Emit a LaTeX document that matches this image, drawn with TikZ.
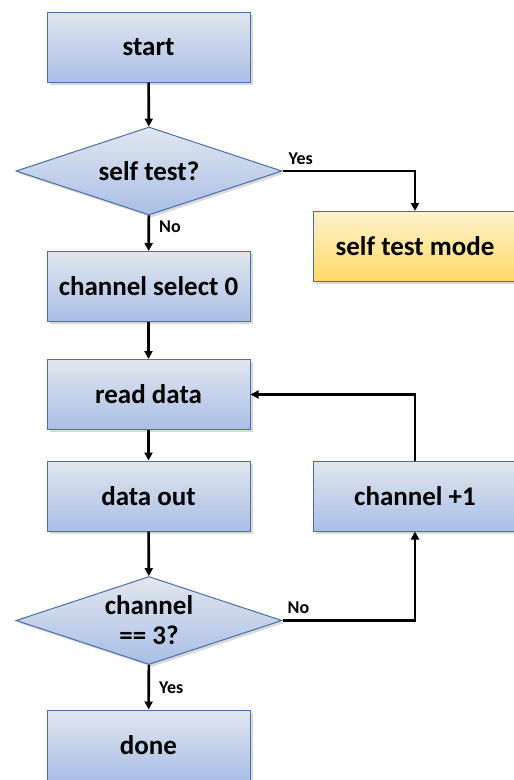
\documentclass[tikz,border=0pt]{standalone}
\usepackage{fontspec}
\setmainfont{Carlito}
\usetikzlibrary{shapes.geometric,arrows.meta,shadows}
\definecolor{bordblue}{HTML}{4A6DAA}
\definecolor{topblue}{HTML}{E2E6EE}
\definecolor{botblue}{HTML}{A9BFE6}
\definecolor{topyel}{HTML}{FFF3CF}
\definecolor{botyel}{HTML}{FFD966}
\tikzset{
  base/.style={draw=bordblue, line width=1pt, top color=topblue, bottom color=botblue,
    drop shadow={shadow xshift=2.5pt, shadow yshift=-2.5pt, opacity=0.25, fill=black!60},
    font=\bfseries\fontsize{27}{30}\selectfont, text=black, inner sep=0pt, align=center},
  box/.style={base, rectangle, minimum width=203pt, minimum height=70pt},
  ybox/.style={box, top color=topyel, bottom color=botyel},
  dec/.style={base, diamond, shape aspect=3.02, minimum width=266pt, minimum height=88pt},
  conn/.style={line width=2.6pt, -{Triangle[length=8pt,width=8pt]}},
  lab/.style={font=\bfseries\fontsize{18}{20}\selectfont, inner sep=1pt}
}
\begin{document}
\begin{tikzpicture}[x=1pt,y=-1pt]
\useasboundingbox (0,0) rectangle (514,780);
\node[box]  (start) at (148.5,47)  {start};
\node[dec]  (st)    at (149,171)   {self test?};
\node[ybox] (stm)   at (415,246.5) {self test mode};
\node[box]  (cs0)   at (148.5,286.5) {channel select 0};
\node[box]  (rd)    at (148.5,394.5) {read data};
\node[box]  (do)    at (148.5,496) {data out};
\node[box]  (cp1)   at (415,496)   {channel +1};
\node[dec]  (ch3)   at (149,620.5) {channel\\== 3?};
\node[box]  (done)  at (148.5,745) {done};

\draw[conn] (start) -- (st);
\draw[conn] (st.east) -| (stm.north);
\node[lab, anchor=south west] (yes1) at ([xshift=5pt,yshift=5pt]st.east) {Yes};
\draw[conn] (st) -- (cs0);
\node[lab, anchor=west] (no1) at ([xshift=9pt,yshift=-11pt]st.south) {No};
\draw[conn] (cs0) -- (rd);
\draw[conn] (rd) -- (do);
\draw[conn] (do) -- (ch3);
\draw[conn] (ch3.east) -| (cp1.south);
\node[lab, anchor=south west] (no2) at ([xshift=4pt,yshift=6pt]ch3.east) {No};
\draw[conn] (cp1.north) |- (rd.east);
\draw[conn] (ch3) -- (done);
\node[lab, anchor=west] (yes2) at ([xshift=9pt,yshift=-23pt]ch3.south) {Yes};
\end{tikzpicture}
\end{document}
